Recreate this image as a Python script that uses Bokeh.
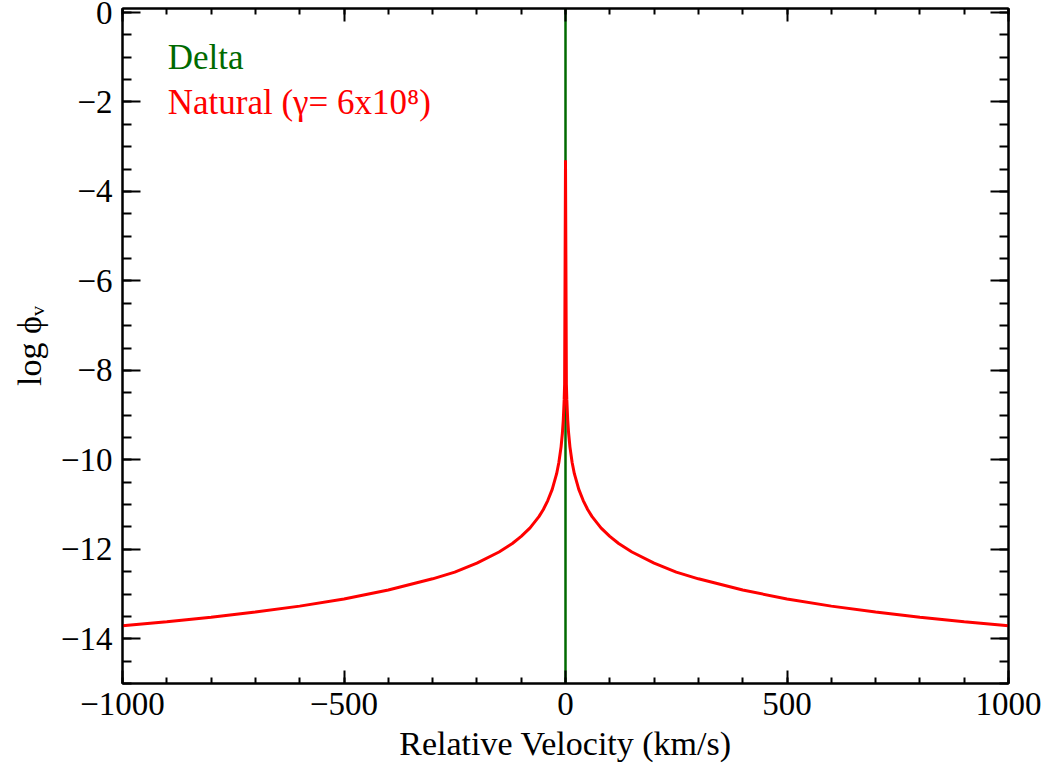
from bokeh.plotting import figure
from bokeh.models import LinearAxis, Range1d, Label, CustomJSTickFormatter, FixedTicker
from bokeh.embed import file_html
from bokeh.resources import INLINE

# Natural (Lorentzian) profile
velocity = [-1000, -900, -800, -700, -600, -500, -400, -300, -250, -200, -150, -120, -100,
            -80, -60, -50, -40, -30, -20, -15, -10, -7, -5, -3, -2,
            0,
            2, 3, 5, 7, 10, 15, 20, 30, 40, 50, 60, 80,
            100, 120, 150, 200, 250, 300, 400, 500, 600, 700, 800, 900, 1000]
log_phi = [-13.71, -13.62, -13.52, -13.40, -13.27, -13.11, -12.91, -12.66, -12.51, -12.31, -12.06, -11.87, -11.71,
           -11.52, -11.27, -11.11, -10.91, -10.66, -10.31, -10.06, -9.71, -9.40, -9.11, -8.66, -8.31,
           -3.30,
           -8.31, -8.66, -9.11, -9.40, -9.71, -10.06, -10.31, -10.66, -10.91, -11.11, -11.27, -11.52,
           -11.71, -11.87, -12.06, -12.31, -12.51, -12.66, -12.91, -13.11, -13.27, -13.40, -13.52, -13.62, -13.71]

# Delta function profile
delta_v = [0, 0]
delta_log_phi = [-15, 0.09]

x_major = [-1000, -500, 0, 500, 1000]
x_minor = list(range(-1000, 1001, 100))
y_major = [-14, -12, -10, -8, -6, -4, -2, 0]
y_minor = [v / 2 for v in range(-30, 1)]

legend_labels = ["Delta", "Natural (\u03b3= 6x10\u2078)"]
legend_colors = ["#006a00", "#ff0000"]

FONT = "Liberation Serif"

p = figure(width=1047, height=771, output_backend="svg", toolbar_location=None,
           x_range=Range1d(-1000, 1000), y_range=Range1d(-15, 0.09),
           min_border_left=122, min_border_right=39, min_border_top=8, min_border_bottom=88,
           x_axis_label="Relative Velocity (km/s)", y_axis_label="log \u03d5\u1d65")
p.grid.visible = False
p.background_fill_color = "white"
p.border_fill_color = "white"
p.outline_line_color = "black"
p.outline_line_width = 2

fmt = CustomJSTickFormatter(code="return (tick < 0 ? '\\u2212' : '') + Math.abs(tick).toFixed(0);")
blank = CustomJSTickFormatter(code="return '';")

for ax in p.xaxis:
    ax.ticker = FixedTicker(ticks=x_major, minor_ticks=x_minor)
    ax.formatter = fmt
    ax.major_tick_in = 13
    ax.major_tick_out = 0
    ax.minor_tick_in = 6
    ax.minor_tick_out = 0
    ax.major_label_standoff = 9
    ax.axis_label_standoff = 7
for ax in p.yaxis:
    ax.ticker = FixedTicker(ticks=y_major, minor_ticks=y_minor)
    ax.formatter = fmt
    ax.major_tick_in = 18
    ax.major_tick_out = 0
    ax.minor_tick_in = 9
    ax.minor_tick_out = 0
    ax.major_label_standoff = 10
    ax.axis_label_standoff = 10

for ax in list(p.xaxis) + list(p.yaxis):
    ax.axis_line_width = 2
    ax.major_tick_line_width = 2
    ax.minor_tick_line_width = 2
    ax.major_label_text_font = FONT
    ax.major_label_text_font_size = "33px"
    ax.major_label_text_color = "black"
    ax.axis_label_text_font = FONT
    ax.axis_label_text_font_size = "34px"
    ax.axis_label_text_font_style = "normal"
    ax.axis_label_text_color = "black"

# mirrored axes (ticks only)
top = LinearAxis(ticker=FixedTicker(ticks=x_major, minor_ticks=x_minor), formatter=blank,
                 major_tick_in=13, major_tick_out=0, minor_tick_in=6, minor_tick_out=0,
                 major_label_text_font_size="1px", major_label_standoff=0,
                 axis_line_width=2, major_tick_line_width=2, minor_tick_line_width=2)
right = LinearAxis(ticker=FixedTicker(ticks=y_major, minor_ticks=y_minor), formatter=blank,
                   major_tick_in=18, major_tick_out=0, minor_tick_in=9, minor_tick_out=0,
                   major_label_text_font_size="1px", major_label_standoff=0,
                   axis_line_width=2, major_tick_line_width=2, minor_tick_line_width=2)
p.add_layout(top, "above")
p.add_layout(right, "right")

p.line(delta_v, delta_log_phi, line_color=legend_colors[0], line_width=2.5)
p.line(velocity, log_phi, line_color=legend_colors[1], line_width=3)

for lab, col, yy in zip(legend_labels, legend_colors, [-1.0, -2.01]):
    p.add_layout(Label(x=-898, y=yy, text=lab, text_color=col, text_font=FONT,
                       text_font_size="35px", text_baseline="alphabetic"))

open("out.html", "w").write(file_html(p, INLINE))
